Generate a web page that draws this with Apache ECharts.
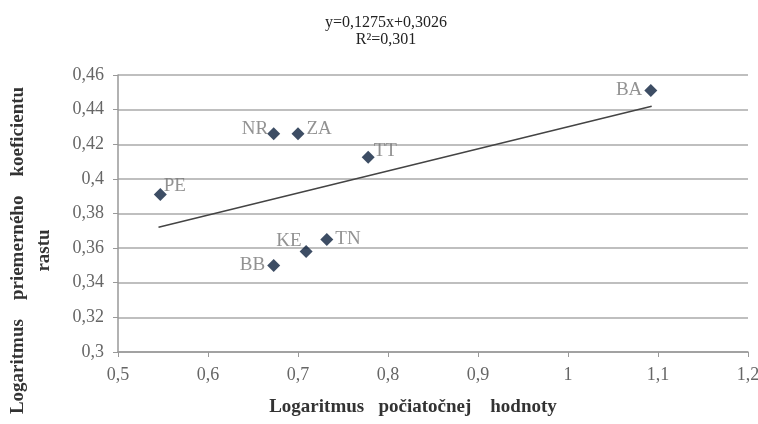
<!DOCTYPE html>
<html><head><meta charset="utf-8">
<script src="https://cdn.jsdelivr.net/npm/echarts@6/dist/echarts.min.js"></script>
<style>html,body{margin:0;padding:0;background:#fff}#c{width:758px;height:424px}</style>
</head><body><div id="c"></div>
<script>
const regions = ['BA','NR','ZA','TT','PE','KE','TN','BB'];
const logInitial = [1.092, 0.673, 0.700, 0.778, 0.547, 0.709, 0.732, 0.673];
const logGrowth = [0.451, 0.426, 0.426, 0.4125, 0.391, 0.358, 0.365, 0.350];
const labelPos = ['left','left','right','right','right','left','right','left'];
const trendX = [0.545, 1.093];
const trendY = [0.372, 0.442];
const xTicks = [0.5,0.6,0.7,0.8,0.9,1,1.1,1.2];
const yTicks = [0.3,0.32,0.34,0.36,0.38,0.4,0.42,0.44,0.46];

const serif = '"Liberation Serif","DejaVu Serif",serif';
const fmt = v => String(+v.toFixed(2)).replace('.', ',');
const labelOffsets = {BA:[0,-1], NR:[3,-5], ZA:[0,-5], TT:[-3,-6], PE:[-5,-8], KE:[4,-11], TN:[0,0], BB:[0,0]};

const chart = echarts.init(document.getElementById('c'));
chart.setOption({
  animation:false,
  title:{text:'y=0,1275x+0,3026\nR²=0,301', left:381, top:9, textAlign:'center',
    textStyle:{fontFamily:serif, fontSize:16, fontWeight:'normal', color:'#222', lineHeight:17}},
  grid:{left:118, right:10, top:75, bottom:72, containLabel:false, outerBoundsMode:'none'},
  xAxis:{type:'value', min:0.5, max:1.2, interval:0.1,
    name:'Logaritmus   počiatočnej    hodnoty', nameLocation:'middle', nameGap:46,
    nameTextStyle:{fontFamily:serif, fontSize:19, fontWeight:'bold', color:'#333', padding:[0,40,0,0]},
    axisLine:{lineStyle:{color:'#999', width:1.5}},
    axisTick:{show:true, length:5, lineStyle:{color:'#999'}},
    splitLine:{show:false},
    axisLabel:{fontFamily:serif, fontSize:18, color:'#666', margin:14, formatter:fmt}},
  yAxis:{type:'value', min:0.3, max:0.46, interval:0.02,
    name:'Logaritmus    priemerného    koeficientu\nrastu', nameLocation:'middle', nameGap:61, nameRotate:90,
    nameTextStyle:{fontFamily:serif, fontSize:19, fontWeight:'bold', color:'#333', lineHeight:26, padding:[0,0,0,-74]},
    axisLine:{show:true, lineStyle:{color:'#999', width:1.5}},
    axisTick:{show:true, length:5, lineStyle:{color:'#999'}},
    splitLine:{lineStyle:{color:'#aaa', width:1.5}},
    axisLabel:{fontFamily:serif, fontSize:18, color:'#666', margin:14, formatter:fmt}},
  series:[
    {type:'line', data:trendX.map((x,i)=>[x,trendY[i]]), symbol:'none',
     lineStyle:{color:'#444', width:1.5}, z:1},
    {type:'scatter', symbol:'diamond', symbolSize:13,
     itemStyle:{color:'#0c203d'},
     data:regions.map((r,i)=>({name:r, value:[logInitial[i], logGrowth[i]],
       label:{show:true, position:labelPos[i], offset:labelOffsets[r], distance:2}})),
     label:{formatter:p=>p.name, fontFamily:serif, fontSize:19, color:'#777'}, z:2}
  ]
});
</script></body></html>
